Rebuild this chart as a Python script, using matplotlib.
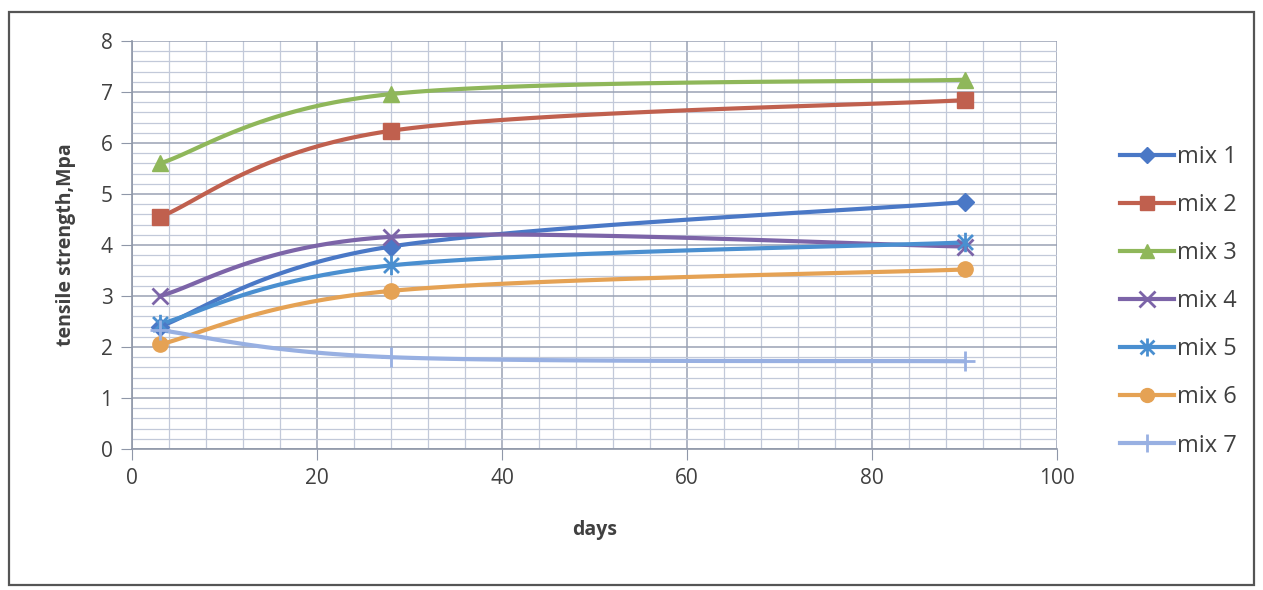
import numpy as np
import matplotlib.pyplot as plt
from matplotlib.patches import Rectangle
from matplotlib.path import Path

# data
days = [3, 28, 90]
mix1 = [2.40, 3.97, 4.84]
mix2 = [4.55, 6.24, 6.84]
mix3 = [5.60, 6.96, 7.24]
mix4 = [3.00, 4.16, 3.97]
mix5 = [2.45, 3.60, 4.05]
mix6 = [2.05, 3.10, 3.52]
mix7 = [2.33, 1.80, 1.72]

labels = ["mix 1", "mix 2", "mix 3", "mix 4", "mix 5", "mix 6", "mix 7"]
series = [mix1, mix2, mix3, mix4, mix5, mix6, mix7]
colors = ["#4a78c6", "#c0604e", "#8fb75a", "#7c64a8", "#4a8fd0", "#e5a254", "#98b0e2"]

# excel "star" marker: an x with a vertical bar through it
star = Path([(-1, -1), (1, 1), (-1, 1), (1, -1), (0, -1.3), (0, 1.3)],
            [Path.MOVETO, Path.LINETO, Path.MOVETO, Path.LINETO, Path.MOVETO, Path.LINETO])
markers = ["D", "s", "^", "x", star, "o", "+"]
msizes = [9, 11, 11, 12, 14, 11, 14]
line_markers = [False, False, False, True, True, False, True]


def smooth(x, y, n=40):
    # excel-like smoothed line: cubic bezier with catmull-rom tangents
    x = np.asarray(x, float); y = np.asarray(y, float)
    xs, ys = [], []
    for i in range(len(x) - 1):
        p0 = np.array([x[max(i - 1, 0)], y[max(i - 1, 0)]])
        p1 = np.array([x[i], y[i]])
        p2 = np.array([x[i + 1], y[i + 1]])
        p3 = np.array([x[min(i + 2, len(x) - 1)], y[min(i + 2, len(x) - 1)]])
        c1 = p1 + (p2 - p0) / 6.0
        c2 = p2 - (p3 - p1) / 6.0
        t = np.linspace(0, 1, n)[:, None]
        b = (1 - t)**3 * p1 + 3 * (1 - t)**2 * t * c1 + 3 * (1 - t) * t**2 * c2 + t**3 * p2
        xs.extend(b[:, 0]); ys.extend(b[:, 1])
    return np.array(xs), np.array(ys)


plt.rcParams['font.family'] = ['Open Sans', 'DejaVu Sans']

fig = plt.figure(figsize=(12.63, 5.90), dpi=100)
fig.patches.append(Rectangle((0.007, 0.008), 0.986, 0.972, transform=fig.transFigure,
                             fill=False, edgecolor="#555555", linewidth=1.6))
ax = fig.add_axes([0.1045, 0.239, 0.7325, 0.6915])

for y, lab, c, m, ms, lm in zip(series, labels, colors, markers, msizes, line_markers):
    mew = 2 if lm else 1
    sx, sy = smooth(days, y)
    ax.plot(sx, sy, color=c, linewidth=3, solid_capstyle='round', zorder=3)
    ax.plot(days, y, linestyle='none', marker=m, markersize=ms, color=c,
            markeredgewidth=mew, zorder=4)
    ax.plot([], [], color=c, linewidth=3, marker=m, markersize=ms - 1,
            markeredgewidth=mew, label=lab)

ax.set_xlim(0, 100)
ax.set_ylim(0, 8)
ax.set_xticks(np.arange(0, 101, 20))
ax.set_yticks(np.arange(0, 9, 1))
ax.set_xticks(np.arange(0, 101, 4), minor=True)
ax.set_yticks(np.arange(0, 8.01, 0.2), minor=True)
ax.grid(which='major', color="#9aa2b4", linewidth=1.1)
ax.grid(which='minor', color="#c2c9d9", linewidth=0.9)
ax.set_axisbelow(True)
for s in ["top", "right"]:
    ax.spines[s].set_visible(False)
for s in ["left", "bottom"]:
    ax.spines[s].set_color("#8f97a8")
    ax.spines[s].set_linewidth(1.2)
ax.tick_params(which='major', length=8, color="#8f97a8", labelsize=15,
               labelcolor="#404040", pad=6)
ax.tick_params(which='minor', length=0)
ax.set_xlabel("days", fontsize=14, fontweight='bold', color="#404040", labelpad=22)
ax.set_ylabel("tensile strength,Mpa", fontsize=14, fontweight='bold', color="#404040", labelpad=18)

ax.legend(loc='center left', bbox_to_anchor=(1.045, 0.362), frameon=False, fontsize=17,
          labelcolor="#404040", handlelength=2.3, handletextpad=0.1, labelspacing=1.02)

fig.savefig("out.png", dpi=100, facecolor="white")
